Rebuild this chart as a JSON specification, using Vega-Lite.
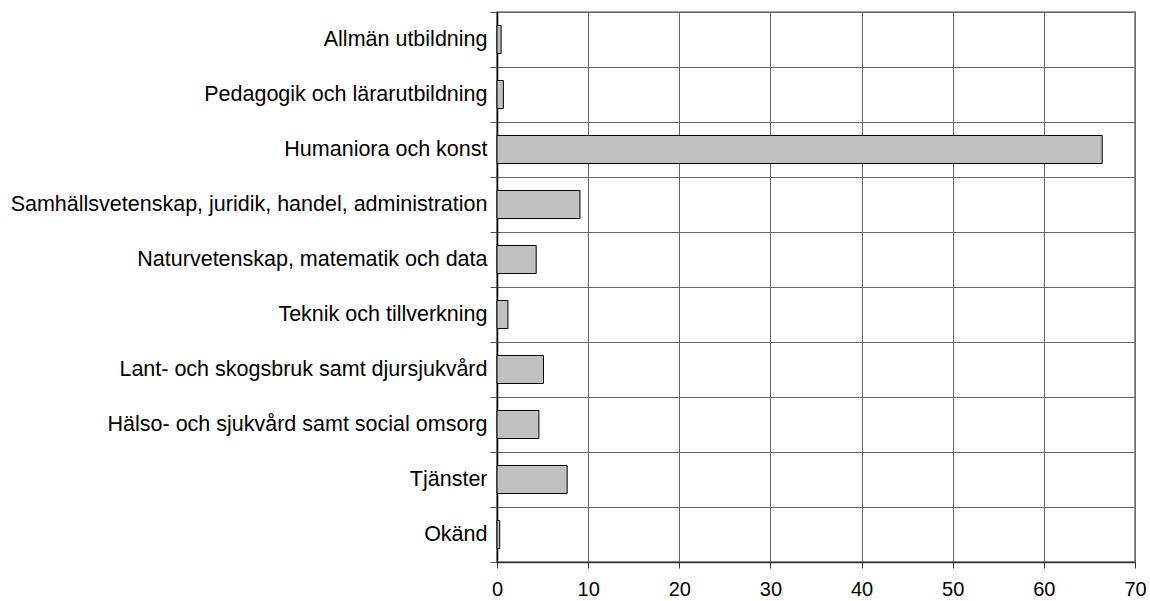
{
  "$schema": "https://vega.github.io/schema/vega-lite/v6.json",
  "width": 638,
  "height": 550,
  "autosize": {"type": "none"},
  "padding": {"left": 497, "top": 12, "right": 15, "bottom": 39},
  "background": "white",
  "config": {
    "font": "Liberation Sans",
    "view": {"stroke": "#808080", "strokeWidth": 1.5}
  },
  "data": {
    "values": [
      {"kategori": "Allmän utbildning", "procent": 0.45},
      {"kategori": "Pedagogik och lärarutbildning", "procent": 0.7},
      {"kategori": "Humaniora och konst", "procent": 66.4},
      {"kategori": "Samhällsvetenskap, juridik, handel, administration", "procent": 9.1},
      {"kategori": "Naturvetenskap, matematik och data", "procent": 4.3},
      {"kategori": "Teknik och tillverkning", "procent": 1.2},
      {"kategori": "Lant- och skogsbruk samt djursjukvård", "procent": 5.1},
      {"kategori": "Hälso- och sjukvård samt social omsorg", "procent": 4.6},
      {"kategori": "Tjänster", "procent": 7.7},
      {"kategori": "Okänd", "procent": 0.3}
    ]
  },
  "mark": {"type": "bar", "fill": "#c0c0c0", "stroke": "#000000", "strokeWidth": 1, "height": {"band": 0.51}},
  "encoding": {
    "y": {
      "field": "kategori",
      "type": "nominal",
      "sort": null,
      "scale": {"paddingInner": 0, "paddingOuter": 0},
      "axis": {
        "title": null,
        "tickBand": "extent",
        "grid": true,
        "gridColor": "#666666",
        "gridWidth": 1,
        "domainColor": "#000000",
        "domainWidth": 1.5,
        "tickColor": "#555555",
        "tickSize": 7,
        "labelPadding": 3,
        "labelFontSize": 21.5,
        "labelColor": "#000000",
        "labelLimit": 600
      }
    },
    "x": {
      "field": "procent",
      "type": "quantitative",
      "scale": {"domain": [0, 70], "nice": false},
      "axis": {
        "title": null,
        "values": [0, 10, 20, 30, 40, 50, 60, 70],
        "grid": true,
        "gridColor": "#666666",
        "gridWidth": 1,
        "domainColor": "#333333",
        "domainWidth": 1.5,
        "tickColor": "#333333",
        "tickSize": 6,
        "labelPadding": 11,
        "labelFontSize": 20,
        "labelColor": "#000000",
        "labelFlush": false
      }
    }
  }
}
